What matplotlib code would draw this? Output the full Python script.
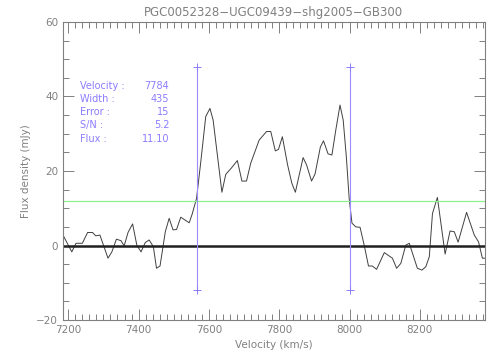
import matplotlib
matplotlib.use('Agg')
import matplotlib.pyplot as plt
from matplotlib.ticker import MultipleLocator

# spectrum
vel = [7185, 7210, 7222, 7240, 7255, 7269, 7278, 7290, 7313, 7324, 7337, 7350,
       7359, 7370, 7383, 7395, 7407, 7419, 7430, 7442, 7451, 7461, 7470, 7476,
       7487, 7498, 7508, 7520, 7544, 7553, 7565, 7577, 7591, 7603, 7612, 7637,
       7648, 7664, 7681, 7694, 7707, 7719, 7743, 7764, 7776, 7789, 7798, 7809,
       7824, 7836, 7846, 7868, 7878, 7892, 7902, 7917, 7926, 7939, 7950, 7961,
       7973, 7982, 7991, 7999, 8007, 8018, 8030, 8042, 8054, 8065, 8077, 8099,
       8122, 8134, 8146, 8160, 8170, 8181, 8193, 8206, 8217, 8227, 8236, 8250,
       8260, 8272, 8286, 8298, 8309, 8333, 8355, 8367, 8378, 8386]
flux = [2.8, -1.7, 0.6, 0.6, 3.5, 3.5, 2.6, 2.8, -3.4, -1.7, 1.7, 1.3,
        -0.1, 3.5, 5.8, 0.1, -1.7, 0.8, 1.5, -0.3, -6.1, -5.5, 0.0, 3.7,
        7.3, 4.2, 4.3, 7.6, 6.1, 8.6, 12.7, 22.5, 34.6, 36.8, 33.7, 14.3,
        19.1, 20.8, 22.8, 17.3, 17.3, 22.1, 28.3, 30.6, 30.6, 25.4, 25.8, 29.2,
        21.6, 16.7, 14.3, 23.6, 21.6, 17.3, 19.2, 26.4, 28.1, 24.6, 24.3, 31.0,
        37.7, 33.7, 23.8, 12.7, 6.0, 5.0, 4.9, 0.0, -5.5, -5.5, -6.4, -1.9,
        -3.4, -6.1, -4.8, 0.1, 0.6, -2.6, -6.1, -6.6, -5.7, -3.0, 8.6, 12.9,
        6.0, -2.3, 3.9, 3.7, 0.9, 8.9, 2.8, 1.0, -3.4, -3.4]

v_lo, v_hi = 7566.5, 8001.5
thresh = 12.0
labels = ['Velocity :', 'Width :', 'Error :', 'S/N :', 'Flux :']
values = ['7784', '435', '15', '5.2', '11.10']
title = 'PGC0052328\u2212UGC09439\u2212shg2005\u2212GB300'

gray = '#808080'
blue = '#8c7cff'

plt.rcParams['font.family'] = 'DejaVu Sans'
fig = plt.figure(figsize=(5.04, 3.6), dpi=100)
ax = fig.add_axes([0.125, 0.111, 0.837, 0.828])

ax.plot(vel, flux, color='#404040', lw=0.7)
ax.axhline(0, color='#202020', lw=1.8)
ax.axhline(thresh, color='#8cf08c', lw=0.9)
for v in (v_lo, v_hi):
    ax.plot([v, v], [-12, 48], color='#9c8cff', lw=0.8)
    ax.plot([v, v], [-12, 48], ls='none', marker='+', ms=6, mew=0.7, color='#8c7cff')

for i, (l, t) in enumerate(zip(labels, values)):
    y = 0.762 - i * 0.0368
    fig.text(0.159, y, l, color=blue, fontsize=7, va='center', ha='left')
    fig.text(0.336, y, t, color=blue, fontsize=7, va='center', ha='right')

ax.set_xlim(7185, 8385)
ax.set_ylim(-20, 60)
ax.xaxis.set_major_locator(MultipleLocator(200))
ax.xaxis.set_minor_locator(MultipleLocator(20))
ax.yaxis.set_major_locator(MultipleLocator(20))
ax.yaxis.set_minor_locator(MultipleLocator(5))
ax.tick_params(which='both', direction='in', top=True, right=True,
               colors=gray, labelsize=7.5, width=0.7)
ax.tick_params(which='major', length=8)
ax.tick_params(which='minor', length=4)
for s in ax.spines.values():
    s.set_color(gray)
    s.set_linewidth(0.8)

ax.set_title(title, color=gray, fontsize=8.5, pad=4)
ax.set_xlabel('Velocity (km/s)', color=gray, fontsize=7.5)
ax.set_ylabel('Flux density (mJy)', color=gray, fontsize=7.5)

plt.savefig('out.png', dpi=100)
